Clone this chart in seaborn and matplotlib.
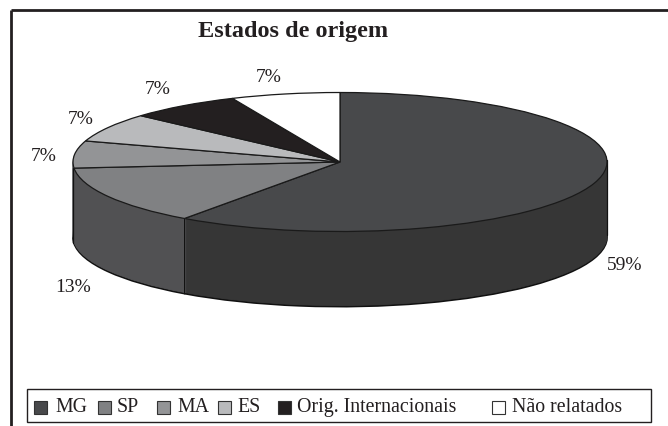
import matplotlib
matplotlib.use("Agg")
import matplotlib.pyplot as plt
import numpy as np
import seaborn as sns
from matplotlib.patches import Rectangle

# slice sizes, the printed labels are rounded differently
estados = ["MG", "SP", "MA", "ES", "Orig. Internacionais", "Não relatados"]
fatias = [59.9, 13.7, 6.3, 6.7, 6.8, 6.6]
rotulos = ["59%", "13%", "7%", "7%", "7%", "7%"]

W, H = 668, 427
CX, CY, RX, RY, DEPTH = 340, 163, 267, 69.5, 75
FONT = "Liberation Serif"

cores_topo = ["#48494b", "#808183", "#939496", "#b9babc", "#231f20", "#ffffff"]
cores_lado = ["#363636", "#515153", "#6f7072", "#8a8b8d", "#111111", "#dddddd"]

rotulo_pos = [(625, 266), (73, 288), (44, 157), (81, 119), (158, 90), (269, 78)]
legenda_x = [(34, 55), (98, 117), (157, 177), (218, 237), (278, 297), (492, 512)]


def main():
    sns.set_theme(style="white")
    plt.rcParams["font.family"] = [FONT, "DejaVu Sans"]

    fig = plt.figure(figsize=(W / 100, H / 100), dpi=100)
    ax = fig.add_axes([0, 0, 1, 1])

    # side of the disc: same pie stacked downwards, back to front
    offsets = np.arange(DEPTH, 0, -1)
    base, _ = ax.pie(fatias, colors=cores_lado, startangle=90, counterclock=False,
                     center=(0, -DEPTH / RY),
                     wedgeprops={"edgecolor": "#111111", "linewidth": 1.4})
    for off in offsets[1:]:
        camada, _ = ax.pie(fatias, colors=cores_lado, startangle=90, counterclock=False,
                           center=(0, -off / RY), wedgeprops={"linewidth": 0.6})
        for w in camada:
            w.set_edgecolor(w.get_facecolor())

    # vertical edges of the side
    x_corte = np.cos(np.deg2rad(base[0].theta1))
    y_corte = np.sin(np.deg2rad(base[0].theta1))
    ax.plot([-1, -1], [-0.09, -0.09 - DEPTH / RY], color="#111111", lw=0.9, zorder=5)
    ax.plot([1, 1], [0.03, 0.03 - DEPTH / RY], color="#111111", lw=0.9, zorder=5)
    ax.plot([x_corte, x_corte], [y_corte, y_corte - DEPTH / RY], color="#111111", lw=0.7, zorder=5)

    ax.pie(fatias, colors=cores_topo, startangle=90, counterclock=False, center=(0, 0),
           wedgeprops={"edgecolor": "#1a1a1a", "linewidth": 0.9, "zorder": 6})

    ax.set_aspect("auto")
    ax.set_xlim(-CX / RX, (W - CX) / RX)
    ax.set_ylim((CY - H) / RY, CY / RY)

    # overlay in pixel coordinates for the text, frame and legend
    px = fig.add_axes([0, 0, 1, 1], facecolor="none")
    px.set_xlim(0, W)
    px.set_ylim(H, 0)
    px.axis("off")

    px.plot([10.5, 10.5], [H, 10.5], color="#231f20", lw=2.0, solid_capstyle="butt")
    px.plot([10.5, W], [10.5, 10.5], color="#231f20", lw=2.0, solid_capstyle="butt")

    px.text(293.5, 32, "Estados de origem", ha="center", va="center", fontsize=17.5,
            fontweight="bold", color="#231f20")

    for rotulo, (x, y) in zip(rotulos, rotulo_pos):
        px.text(x, y, rotulo, ha="center", va="center", fontsize=14, color="#231f20")

    px.add_patch(Rectangle((27, 390), 624, 33, facecolor="white", edgecolor="#231f20", lw=1.0))
    for nome, cor, (x_caixa, x_texto) in zip(estados, cores_topo, legenda_x):
        px.add_patch(Rectangle((x_caixa, 402), 12.5, 12.5, facecolor=cor, edgecolor="#333333", lw=0.8))
        px.text(x_texto, 408, nome, ha="left", va="center", fontsize=14.3, color="#231f20")

    fig.savefig("out.png", dpi=100)
    plt.close(fig)


if __name__ == "__main__":
    main()
